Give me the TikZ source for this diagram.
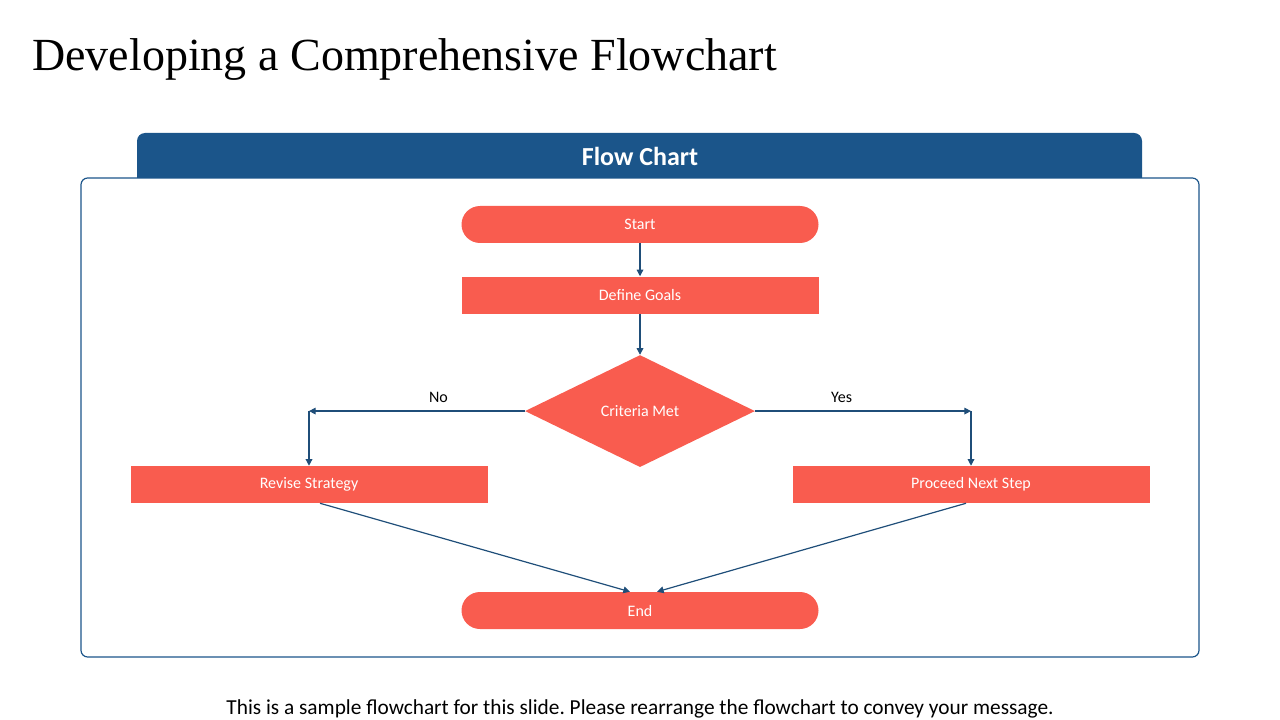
\documentclass[tikz,border=0pt]{standalone}
\usepackage{fontspec}
\setmainfont{Carlito}
\newfontfamily\titlefont{Liberation Serif}
\usepackage{tikz}
\usepackage{xcolor}
\usetikzlibrary{arrows.meta, positioning, shapes.geometric}
\frenchspacing

\definecolor{coral}{RGB}{249,92,79}
\definecolor{headblue}{RGB}{27,85,138}
\definecolor{linkblue}{RGB}{31,78,121}

\begin{document}
\begin{tikzpicture}[x=0.75pt, y=-0.75pt,
    box/.style={rectangle, fill=coral, text=white, minimum width=267.75pt, minimum height=27.75pt, inner sep=0pt, font=\fontsize{12}{14}\selectfont},
    term/.style={box, rounded corners=13.875pt},
    choice/.style={diamond, fill=coral, text=white, minimum width=172.5pt, minimum height=84pt, inner sep=0pt, font=\fontsize{12}{14}\selectfont},
    link/.style={draw=linkblue, line width=0.9pt, -{Triangle[length=5pt, width=5pt]}},
    lbl/.style={font=\fontsize{12}{14}\selectfont, text=black}]
    \useasboundingbox (0,0) rectangle (1280,720);

    % title
    \node[anchor=base west, inner sep=0pt, font=\titlefont\fontsize{34.5}{40}\selectfont] (title) at (32,71) {Developing a Comprehensive Flowchart};

    % panel with its header bar
    \draw[headblue, line width=0.9pt, rounded corners=5pt] (81,178) rectangle (1199,657);
    \fill[headblue] (137,178) {[rounded corners=6pt] -- (137,133) -- (1142,133)} -- (1142,178) -- cycle;
    \node[text=white, font=\bfseries\fontsize{19.5}{23}\selectfont] (head) at (640,156) {Flow Chart};

    % flow
    \node[term] (start) at (640,224.5) {Start};
    \node[box, below=24.75pt of start] (goals) {Define Goals};
    \node[choice, below=30.75pt of goals] (crit) {Criteria Met};
    \node[box] (revise) at (309,484.5) {Revise Strategy};
    \node[box] (proceed) at (971,484.5) {Proceed Next Step};
    \node[term] (end) at (640,610.5) {End};

    \coordinate (nocorner) at (revise.north |- crit.west);
    \coordinate (yescorner) at (proceed.north |- crit.east);

    \draw[link] (start) -- (goals);
    \draw[link] (goals) -- (crit);
    \draw[link] (crit.west) -- node[lbl, above=2.5pt, pos=0.40] (no) {No} (nocorner);
    \draw[link] (nocorner) -- (revise.north);
    \draw[link] (crit.east) -- node[lbl, above=2.5pt, pos=0.40] (yes) {Yes} (yescorner);
    \draw[link] (yescorner) -- (proceed.north);
    \draw[link] ([xshift=8.25pt]revise.south) -- ([xshift=-7.5pt]end.north);
    \draw[link] ([xshift=-3.75pt]proceed.south) -- ([xshift=12.75pt]end.north);

    % caption
    \node[anchor=base, font=\fontsize{16}{19}\selectfont] (note) at (640,714) {This is a sample flowchart for this slide. Please rearrange the flowchart to convey your message.};
\end{tikzpicture}
\end{document}
